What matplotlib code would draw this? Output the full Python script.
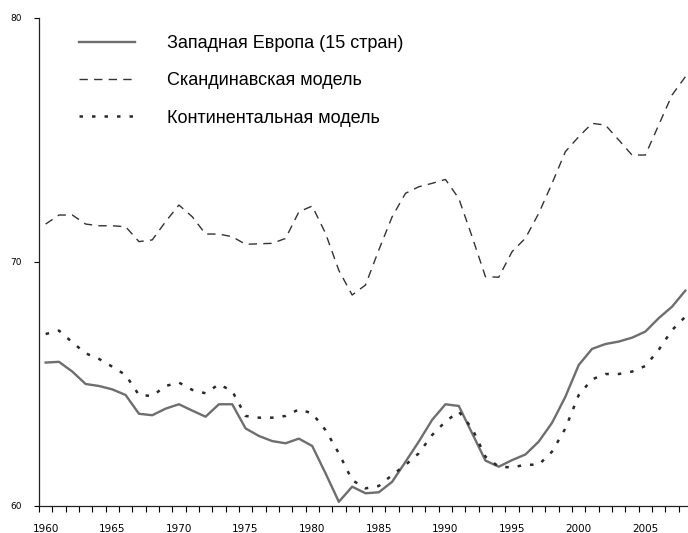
# Life expectancy style chart: Western Europe vs two social models

import matplotlib
matplotlib.use('Agg')
import matplotlib.pyplot as plt
import numpy as np

years = list(range(1960, 2009))

# values
west_europe = [65.87, 65.90, 65.50, 64.99, 64.91, 64.77, 64.54, 63.77, 63.71, 63.98,
               64.16, 63.90, 63.65, 64.16, 64.16, 63.17, 62.86, 62.65, 62.56, 62.75,
               62.45, 61.33, 60.16, 60.78, 60.51, 60.55, 60.98, 61.80, 62.63, 63.52,
               64.16, 64.09, 62.97, 61.85, 61.60, 61.87, 62.10, 62.63, 63.40, 64.47,
               65.77, 66.43, 66.63, 66.73, 66.89, 67.14, 67.69, 68.16, 68.82]

scandinavian = [71.55, 71.92, 71.92, 71.55, 71.48, 71.48, 71.44, 70.83, 70.90, 71.65,
                72.33, 71.85, 71.14, 71.14, 71.03, 70.72, 70.74, 70.76, 70.96, 72.05,
                72.29, 71.17, 69.65, 68.64, 69.05, 70.49, 71.85, 72.81, 73.08, 73.22,
                73.38, 72.60, 71.03, 69.39, 69.37, 70.42, 70.97, 71.99, 73.22, 74.52,
                75.13, 75.68, 75.61, 75.00, 74.38, 74.38, 75.61, 76.84, 77.59]

continental = [67.04, 67.18, 66.70, 66.25, 66.02, 65.70, 65.36, 64.54, 64.50, 64.91,
               65.05, 64.75, 64.61, 64.98, 64.70, 63.68, 63.61, 63.61, 63.68, 63.95,
               63.79, 63.10, 62.15, 61.05, 60.71, 60.81, 61.26, 61.67, 62.15, 62.90,
               63.45, 63.86, 63.17, 62.01, 61.60, 61.57, 61.68, 61.68, 62.22, 63.17,
               64.54, 65.18, 65.40, 65.40, 65.50, 65.73, 66.39, 67.20, 67.75]

labels = ['Западная Европа (15 стран)', 'Скандинавская модель', 'Континентальная модель']
label_years = [1960, 1965, 1970, 1975, 1980, 1985, 1990, 1995, 2000, 2005]

fig = plt.figure(figsize=(6.88, 5.33), dpi=100)
ax = fig.add_axes([39 / 688, 27.3 / 533, 653 / 688, 487.7 / 533])

ax.plot(years, west_europe, color='#6e6e6e', lw=1.7, label=labels[0])
ax.plot(years, scandinavian, color='#333333', lw=1.0, dashes=(6, 4.5), label=labels[1])
ax.plot(years, continental, color='#2a2a2a', lw=1.8, dashes=(1.4, 3.6), label=labels[2])

ax.set_xlim(1959.5, 2008.5)
ax.set_ylim(60, 80)

# ticks between categories, labels on the years (Excel-like category axis)
ax.set_xticks(np.arange(1959.5, 2009, 1), minor=True)
ax.set_xticks(label_years)
ax.set_xticklabels([str(y) for y in label_years])
ax.tick_params(axis='x', which='major', length=0, pad=13, labelsize=7.5)
ax.tick_params(axis='x', which='minor', length=4.5, width=0.8, direction='out')
ax.set_yticks([60, 70, 80])
ax.tick_params(axis='y', length=3.5, width=0.8, pad=9, labelsize=6.5)

for side in ['top', 'right']:
    ax.spines[side].set_visible(False)
for side in ['left', 'bottom']:
    ax.spines[side].set_linewidth(0.9)
    ax.spines[side].set_color('#222222')

ax.legend(loc='upper left', bbox_to_anchor=(79 / 688, 1 - 35 / 533),
          bbox_transform=fig.transFigure, frameon=False,
          prop={'family': 'Liberation Sans', 'size': 13},
          handlelength=3.1, handletextpad=1.75, labelspacing=1.13,
          borderpad=0, borderaxespad=0)

fig.savefig('out.png', dpi=100)
